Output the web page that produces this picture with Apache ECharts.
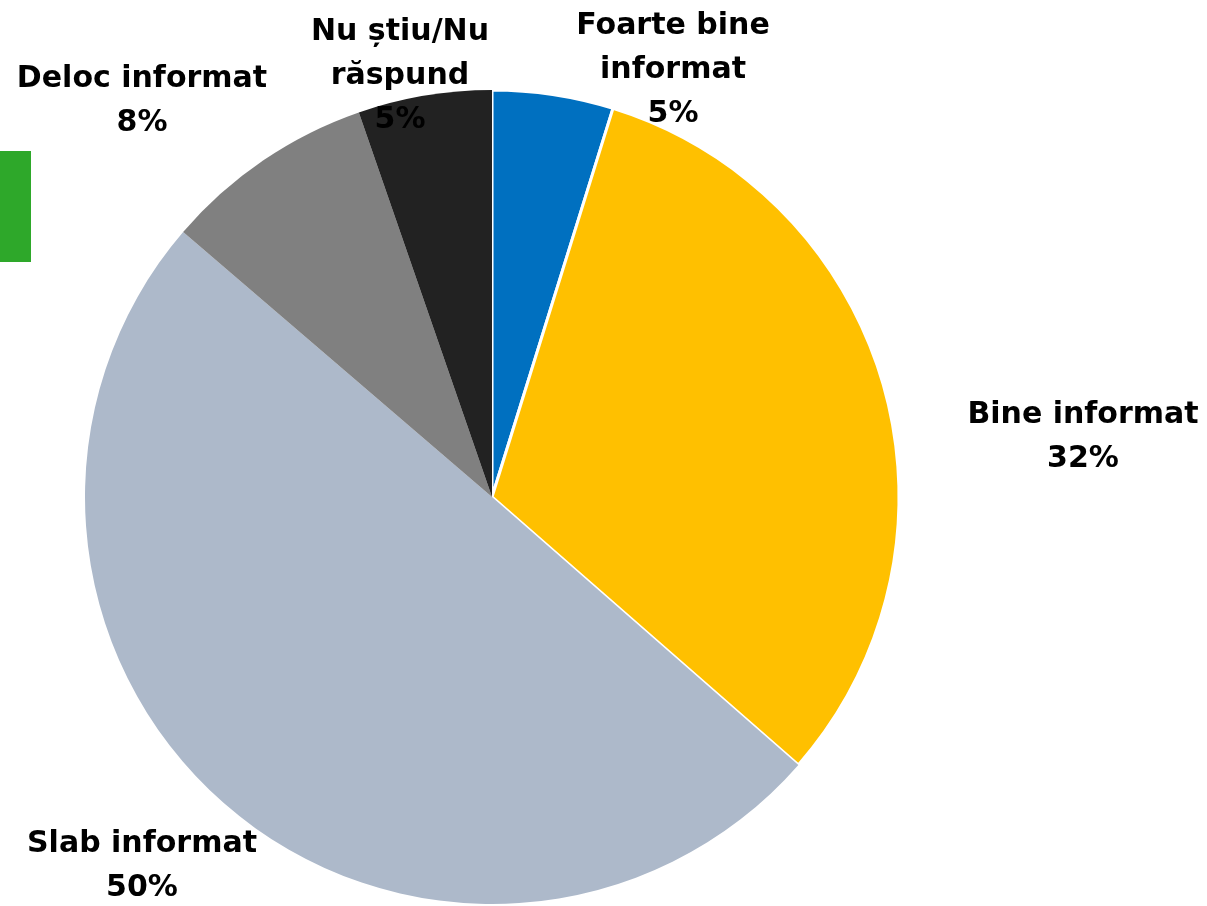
<!DOCTYPE html>
<html>
<head>
<meta charset="utf-8">
<script src="https://cdn.jsdelivr.net/npm/echarts@6/dist/echarts.min.js"></script>
<style>
  html, body { margin: 0; padding: 0; background: #fff; }
  #pie { width: 1207px; height: 906px; }
</style>
</head>
<body>
<div id="pie"></div>
<script>
// categorii si valori (procente)
var categories = ['Foarte bine\ninformat', 'Bine informat', 'Slab informat', 'Deloc informat', 'Nu știu/Nu\nrăspund'];
var values = [4.8, 31.6, 49.8, 8.4, 5.3];
var percentLabels = ['5%', '32%', '50%', '8%', '5%'];
var colors = ['#0070C0', '#FFC000', '#ADB9CA', '#808080', '#222222'];
var borders = [3, 3, 0, 0, 0];

// pozitiile etichetelor (centru text)
var labelPos = [[673, 70], [1083, 437], [142, 866], [142, 101], [400, 76]];

var chart = echarts.init(document.getElementById('pie'));

var data = categories.map(function (name, i) {
  return {
    name: name,
    value: values[i],
    itemStyle: { color: colors[i], borderColor: '#fff', borderWidth: borders[i] }
  };
});

var option = {
  animation: false,
  graphic: [
    // bara verde din stanga
    { type: 'rect', left: 0, top: 151, shape: { width: 31, height: 111 }, style: { fill: '#2EA82A' } }
  ],
  series: [
    {
      type: 'pie',
      center: [492, 497],
      radius: 407,
      startAngle: 90,
      clockwise: true,
      data: data,
      label: {
        show: true,
        position: 'outside',
        formatter: function (p) {
          return p.name + '\n' + percentLabels[p.dataIndex];
        },
        fontFamily: 'DejaVu Sans',
        fontWeight: 'bold',
        fontSize: 30,
        lineHeight: 44,
        color: '#000',
        align: 'center',
        overflow: 'none'
      },
      labelLine: { show: false },
      labelLayout: function (params) {
        var p = labelPos[params.dataIndex];
        return { x: p[0], y: p[1], align: 'center', verticalAlign: 'middle' };
      },
      emphasis: { disabled: true }
    }
  ]
};

chart.setOption(option);
</script>
</body>
</html>
